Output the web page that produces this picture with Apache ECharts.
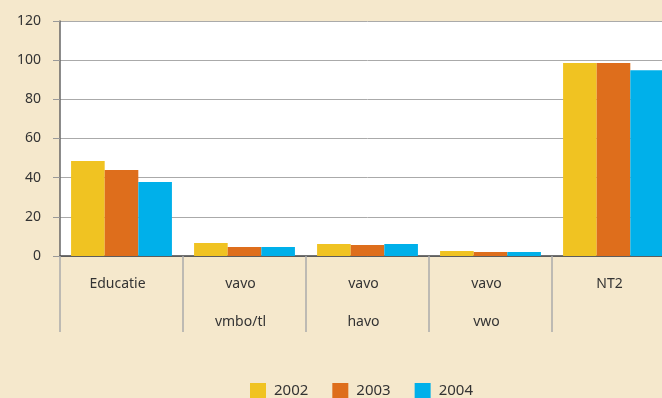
<!DOCTYPE html>
<html>
<head>
<meta charset="utf-8">
<script src="https://cdn.jsdelivr.net/npm/echarts@6/dist/echarts.min.js"></script>
<style>
  html, body { margin: 0; padding: 0; background: #f5e8cc; overflow: hidden; }
  #chart { width: 675px; height: 398px; }
</style>
</head>
<body>
<div id="chart"></div>
<script>
// Categories (two-line labels) and yearly values per category
const categories = ['Educatie', 'vavo\nvmbo/tl', 'vavo\nhavo', 'vavo\nvwo', 'NT2'];
const years = ['2002', '2003', '2004'];
const values2002 = [48.5, 6.6, 6.1, 2.6, 98.5];
const values2003 = [43.9, 4.6, 5.6, 2.0, 98.5];
const values2004 = [37.8, 4.6, 6.1, 2.0, 94.9];
const yTicks = { min: 0, max: 120, interval: 20 };

const colors = ['#f0c322', '#de6e1c', '#00b0ea'];
const font = '"Noto Sans", "DejaVu Sans", sans-serif';

const chart = echarts.init(document.getElementById('chart'), null, { renderer: 'canvas' });

const seriesData = [values2002, values2003, values2004];

chart.setOption({
  backgroundColor: '#f5e8cc',
  animation: false,
  color: colors,
  textStyle: { fontFamily: font, color: '#333' },
  grid: {
    left: 60, top: 21, right: 0, bottom: 142,
    show: true, backgroundColor: '#ffffff', borderWidth: 0
  },
  legend: {
    data: years,
    left: 250,
    top: 383,
    padding: 0,
    itemWidth: 16,
    itemHeight: 16,
    itemGap: 24,
    icon: 'rect',
    textStyle: { fontFamily: font, fontSize: 15, color: '#333', padding: [0, 0, 0, 3] }
  },
  xAxis: {
    type: 'category',
    data: categories,
    boundaryGap: true,
    axisLine: { show: true, lineStyle: { color: '#444', width: 1.5 } },
    axisTick: {
      show: true, length: 76, alignWithLabel: false,
      lineStyle: { color: '#aaa', width: 1.5 }
    },
    axisLabel: {
      margin: 9,
      fontSize: 14,
      lineHeight: 38,
      padding: [0, 8, 0, 0],
      color: '#333',
      fontFamily: font,
      interval: 0
    }
  },
  yAxis: {
    type: 'value',
    min: yTicks.min,
    max: yTicks.max,
    interval: yTicks.interval,
    axisLine: { show: true, lineStyle: { color: '#666', width: 1.5 } },
    axisTick: { show: true, length: 7, lineStyle: { color: '#999' } },
    axisLabel: { margin: 19, fontSize: 14, color: '#333', fontFamily: font },
    splitLine: { show: true, lineStyle: { color: '#aaa', width: 1 } }
  },
  series: years.map((y, i) => ({
    name: y,
    type: 'bar',
    data: seriesData[i],
    barGap: '0%',
    barCategoryGap: '18%',
    itemStyle: { color: colors[i] }
  }))
});
</script>
</body>
</html>
